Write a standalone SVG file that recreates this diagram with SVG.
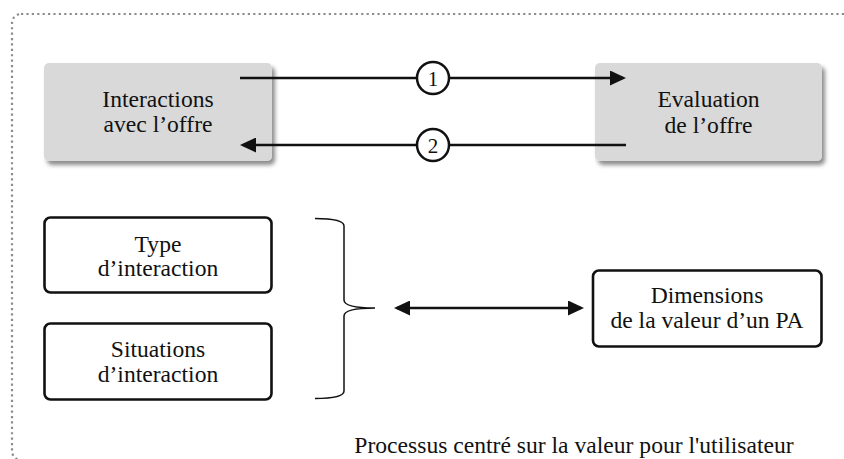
<svg xmlns="http://www.w3.org/2000/svg" width="844" height="459" viewBox="0 0 844 459">
  <style>
    text { font-family: "Liberation Serif", "DejaVu Serif", serif; fill: #111; }
    .lbl { font-size: 23.6px; text-anchor: middle; }
    .num { font-size: 21px; text-anchor: middle; }
    .gray { fill: #d9d9d9; stroke: none; }
    .white { fill: #fff; stroke: #111; stroke-width: 2.6; }
    .conn { stroke: #111; stroke-width: 2.6; fill: none; }
    .circ { fill: #fff; stroke: #111; stroke-width: 2.5; }
    .border { fill: none; stroke: #8c8c8c; stroke-width: 2.2; stroke-dasharray: 2.2 3.2; }
  </style>
  <defs>
    <filter id="sh" x="-10%" y="-10%" width="130%" height="140%">
      <feDropShadow dx="3" dy="4" stdDeviation="2.2" flood-color="#000" flood-opacity="0.45"/>
    </filter>
    <marker id="ah" markerUnits="userSpaceOnUse" markerWidth="16" markerHeight="15" refX="13" refY="7.5" orient="auto">
      <path d="M0,0 L16,7.5 L0,15 z" fill="#111"/>
    </marker>
    <marker id="ahs" markerUnits="userSpaceOnUse" markerWidth="16" markerHeight="15" refX="3" refY="7.5" orient="auto">
      <path d="M16,0 L0,7.5 L16,15 z" fill="#111"/>
    </marker>
  </defs>

  <rect class="border" x="12" y="14" width="860" height="446" rx="9"/>

  <g id="node-interactions">
    <rect class="gray" x="44" y="63" width="228" height="98" rx="5" filter="url(#sh)"/>
    <text class="lbl" x="158" y="107">Interactions</text>
    <text class="lbl" x="158" y="132">avec l’offre</text>
  </g>

  <g id="node-evaluation">
    <rect class="gray" x="595" y="63" width="227" height="98" rx="5" filter="url(#sh)"/>
    <text class="lbl" x="708.5" y="107">Evaluation</text>
    <text class="lbl" x="708.5" y="133">de l’offre</text>
  </g>

  <g id="node-type">
    <rect class="white" x="44.5" y="217.5" width="227" height="75" rx="6"/>
    <text class="lbl" x="158" y="252">Type</text>
    <text class="lbl" x="158" y="276">d’interaction</text>
  </g>

  <g id="node-situations">
    <rect class="white" x="44.5" y="323.5" width="227" height="76" rx="6"/>
    <text class="lbl" x="158" y="357">Situations</text>
    <text class="lbl" x="158" y="382">d’interaction</text>
  </g>

  <g id="node-dimensions">
    <rect class="white" x="593" y="270.5" width="228.5" height="76" rx="6"/>
    <text class="lbl" x="707" y="303">Dimensions</text>
    <text class="lbl" x="707" y="328">de la valeur d’un PA</text>
  </g>

  <g id="connectors">
    <line class="conn" x1="240" y1="78" x2="623" y2="78" marker-end="url(#ah)"/>
    <line class="conn" x1="626" y1="145" x2="243" y2="145" marker-end="url(#ah)"/>
    <path d="M315,218.5 Q344,218.5 344,226 L344,300 Q344,308 375,308 Q344,308 344,316 L344,391 Q344,398.5 315,398.5" fill="none" stroke="#111" stroke-width="1.5"/>
    <line class="conn" x1="397" y1="308" x2="581" y2="308" marker-start="url(#ahs)" marker-end="url(#ah)"/>
    <g id="step-1">
      <circle class="circ" cx="433" cy="78" r="16"/>
      <text class="num" x="433" y="85.5">1</text>
    </g>
    <g id="step-2">
      <circle class="circ" cx="433" cy="145" r="16"/>
      <text class="num" x="433" y="152.5">2</text>
    </g>
  </g>

  <text class="lbl" x="574" y="453">Processus centré sur la valeur pour l'utilisateur</text>
</svg>
